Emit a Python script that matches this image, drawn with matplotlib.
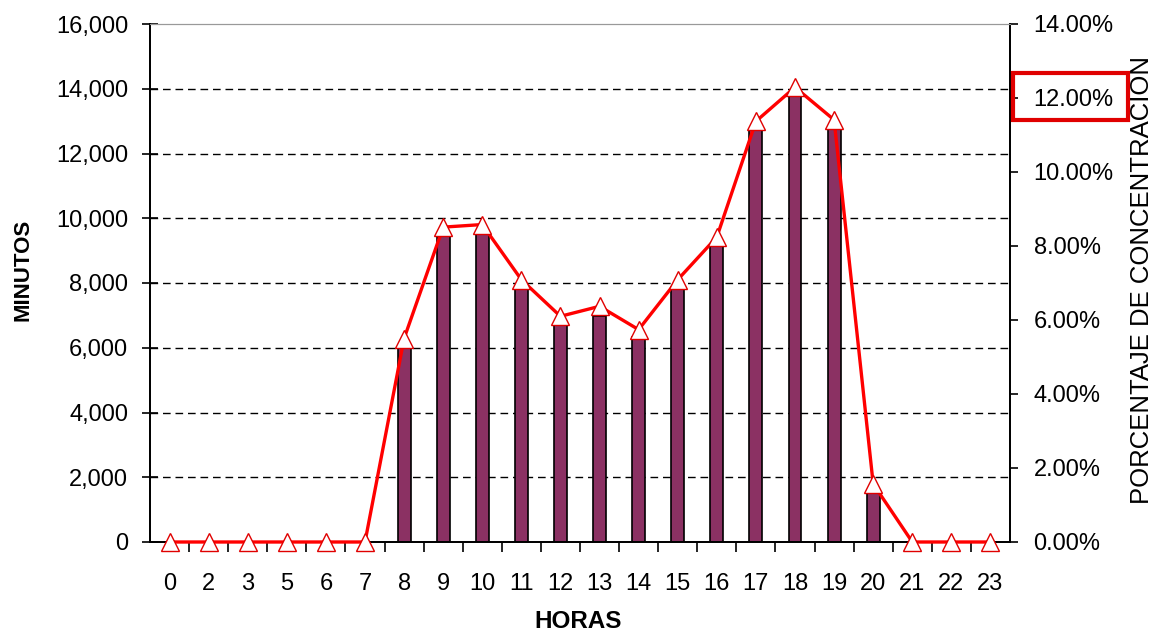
import matplotlib
matplotlib.use('Agg')
import matplotlib.pyplot as plt
from matplotlib.patches import Rectangle
from matplotlib.transforms import blended_transform_factory
import numpy as np

horas = ['0', '2', '3', '5', '6', '7', '8', '9', '10', '11', '12', '13', '14',
         '15', '16', '17', '18', '19', '20', '21', '22', '23']
minutos = [0, 0, 0, 0, 0, 0, 6000, 9450, 9580, 7880, 6730, 6980, 6330,
           7880, 9200, 12760, 13780, 12820, 1580, 0, 0, 0]
porcentaje = [0, 0, 0, 0, 0, 0, 5.50, 8.51, 8.58, 7.09, 6.10, 6.37, 5.74,
              7.09, 8.24, 11.37, 12.29, 11.41, 1.57, 0, 0, 0]

plt.rcParams['font.family'] = ['Liberation Sans', 'DejaVu Sans']
narrow = ['Liberation Sans Narrow', 'Liberation Sans', 'DejaVu Sans']

fig = plt.figure(figsize=(11.59, 6.39), dpi=100)
ax1 = fig.add_axes([150 / 1159, 97 / 639, 860 / 1159, 518 / 639])
ax2 = ax1.twinx()

x = np.arange(len(horas))

# barras de minutos
ax1.bar(x, minutos, width=0.33, color='#8B3163', edgecolor='black', linewidth=1.2, zorder=2)
ax1.set_ylim(0, 16000)
ax1.set_xlim(-0.5, len(horas) - 0.5)
ax1.set_yticks(np.arange(0, 16001, 2000))
ax1.yaxis.set_major_formatter(plt.FuncFormatter(lambda v, loc: "{:,}".format(int(v))))
ax1.set_axisbelow(True)
for g in range(2000, 16000, 2000):
    ax1.axhline(g, color='black', lw=1.0, linestyle=(0, (5.5, 3.5)), zorder=1)

ax1.set_xticks(x)
ax1.set_xticklabels(horas, family=narrow, fontsize=17)
ax1.set_xticks(x[:-1] + 0.5, minor=True)
ax1.tick_params(axis='x', which='major', length=0, pad=22)
ax1.tick_params(axis='x', which='minor', length=7, width=1.2, direction='out')
ax1.tick_params(axis='y', which='major', length=11.5, width=1.2, direction='inout', pad=10,
                labelsize=17)

# linea de porcentaje
ax2.plot(x, porcentaje, color='#FF0000', lw=2.4, marker='^', markersize=13.5,
         markerfacecolor='white', markeredgecolor='#E00000', markeredgewidth=1.0,
         clip_on=False, zorder=5)
ax2.set_ylim(0, 14)
ax2.set_yticks(np.arange(0, 14.01, 2))
ax2.yaxis.set_major_formatter(plt.FuncFormatter(lambda v, loc: "{:.2f}%".format(v)))
ax2.tick_params(axis='y', length=6, width=1.2, direction='out', pad=11, labelsize=17)

for ax in (ax1, ax2):
    ax.spines['top'].set_color('#999999')
    ax.spines['top'].set_linewidth(0.8)
    for s in ('left', 'right', 'bottom'):
        ax.spines[s].set_linewidth(1.3)
        ax.spines[s].set_color('black')

# titulos de ejes
fig.text(23 / 1159, 1 - 270 / 639, 'MINUTOS', rotation=90, ha='center', va='center',
         family=narrow, fontweight='bold', fontsize=16)
fig.text(578 / 1159, 1 - 622 / 639, 'HORAS', ha='center', va='center',
         family=narrow, fontweight='bold', fontsize=17.5)
fig.text(1142 / 1159, 1 - 280 / 639, 'PORCENTAJE DE CONCENTRACION', rotation=90,
         ha='center', va='center', fontsize=18.5)

# recuadro sobre la etiqueta del 12%
tr = blended_transform_factory(fig.transFigure, ax2.transData)
fig.patches.append(Rectangle((1013 / 1159, 11.40), 115 / 1159, 1.27, transform=tr,
                             fill=False, edgecolor='#E00000', linewidth=3, zorder=10))

fig.savefig('out.png', dpi=100)
